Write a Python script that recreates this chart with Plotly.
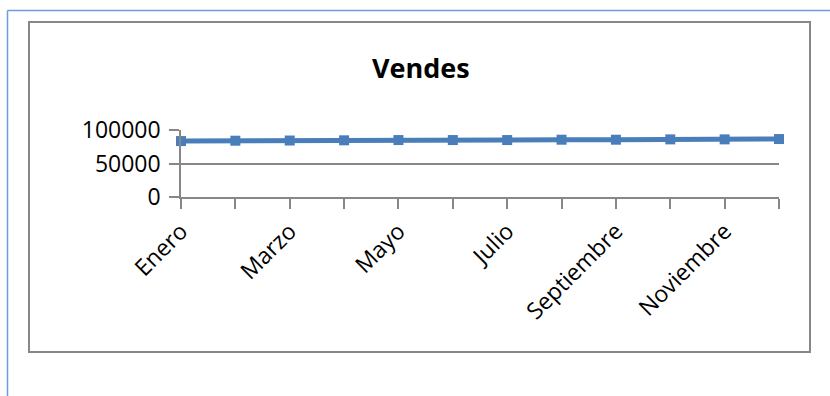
import plotly.graph_objects as go

# Monthly sales
meses = ["Enero", "Febrero", "Marzo", "Abril", "Mayo", "Junio", "Julio",
         "Agosto", "Septiembre", "Octubre", "Noviembre", "Diciembre"]
ventas = [83500, 84000, 84300, 84600, 85000, 85000, 85000,
          85500, 85500, 86000, 86000, 86500]
y_ticks = [0, 50000, 100000]

W, H = 830, 396
L, R, T, B = 181, 779, 130, 197  # plot-area pixel bounds

def px(x):
    return (x - L) / (R - L)

def py(y):
    return (B - y) / (B - T)

BLUE = "#4a7ebb"
GRAY = "#878787"
FONT = "Open Sans, Noto Sans, sans-serif"

fig = go.Figure(go.Scatter(
    x=meses, y=ventas, mode="lines+markers",
    line=dict(color=BLUE, width=5),
    marker=dict(symbol="square", size=10, color=BLUE),
    cliponaxis=False, showlegend=False,
))

fig.update_layout(
    width=W, height=H,
    margin=dict(l=L, r=W - R, t=T, b=H - B, pad=0),
    paper_bgcolor="white", plot_bgcolor="white",
    font=dict(family=FONT, size=23, color="#000000"),
    annotations=[dict(
        text="<b>Vendes</b>", x=px(421), y=py(67), xref="paper", yref="paper",
        xanchor="center", yanchor="middle", showarrow=False,
        font=dict(family=FONT, size=27, color="#000000"),
    )],
    shapes=[
        # outer frame (left and top edges)
        dict(type="line", xref="paper", yref="paper", x0=px(7.5), y0=py(400),
             x1=px(7.5), y1=py(10.5), line=dict(color="#6d9de0", width=1.5)),
        dict(type="line", xref="paper", yref="paper", x0=px(7.5), y0=py(10.5),
             x1=px(834), y1=py(10.5), line=dict(color="#6d9de0", width=1.5)),
        # chart area border
        dict(type="rect", xref="paper", yref="paper", x0=px(29), y0=py(352),
             x1=px(810), y1=py(22), line=dict(color=GRAY, width=2),
             layer="below"),
    ],
)

fig.update_xaxes(
    type="category", range=[0, len(meses) - 1],
    tickmode="array", tickvals=meses,
    ticktext=[m if i % 2 == 0 else "" for i, m in enumerate(meses)],
    tickangle=-45, ticks="outside", ticklen=10, tickwidth=1.5, tickcolor=GRAY,
    showline=True, linecolor=GRAY, linewidth=1.5,
    showgrid=False, zeroline=False, ticklabelstandoff=0,
)
fig.update_yaxes(
    range=[0, 100000], tickmode="array", tickvals=y_ticks,
    ticktext=[str(v) for v in y_ticks],
    ticks="outside", ticklen=10, tickwidth=1.5, tickcolor=GRAY,
    showline=True, linecolor=GRAY, linewidth=1.5,
    showgrid=True, gridcolor=GRAY, gridwidth=1.5, zeroline=False,
    ticklabelstandoff=4,
)

fig.write_html("out.html")
